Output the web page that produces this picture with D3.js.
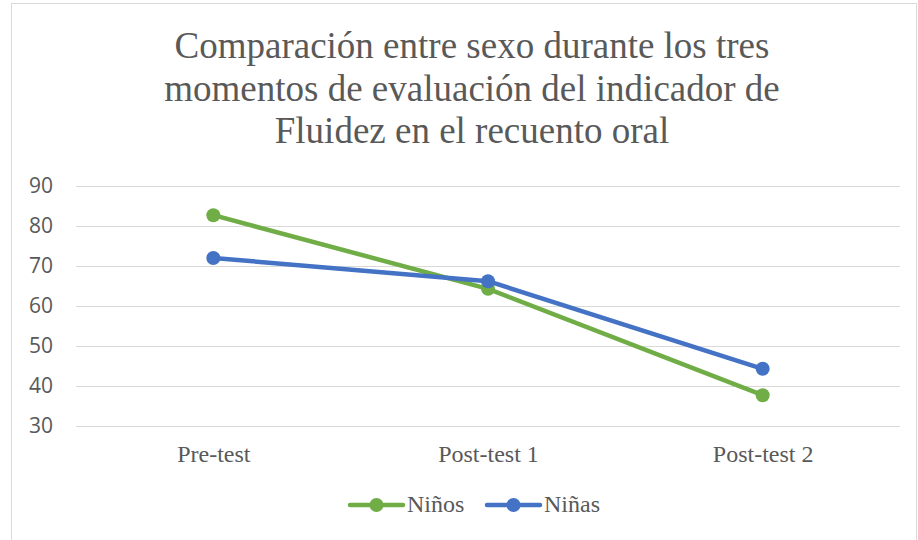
<!DOCTYPE html>
<html>
<head>
<meta charset="utf-8">
<script src="https://cdn.jsdelivr.net/npm/d3@7"></script>
<style>
  body { margin: 0; background: #fff; }
  .serif { font-family: 'Liberation Serif', 'Times New Roman', Tinos, 'DejaVu Serif', serif; }
</style>
</head>
<body>
<div id="chart"></div>
<script>
// Chart data
const categories = ['Pre-test', 'Post-test 1', 'Post-test 2']
const ninos = [82.7, 64.3, 37.7]
const ninas = [72, 66.2, 44.3]
const yTicks = [30, 40, 50, 60, 70, 80, 90]
const titleLines = ['Comparación entre sexo durante los tres',
                    'momentos de evaluación del indicador de',
                    'Fluidez en el recuento oral']

const series = [
    {name: 'Niños', values: ninos, color: '#70AD47'},
    {name: 'Niñas', values: ninas, color: '#4472C4'}
]

const width = 918, height = 540
const margin = {left: 76, right: 18, top: 186, bottom: 114}

let svg = d3.select('#chart').append('svg')
    .attr('width', width)
    .attr('height', height)

// Chart border
svg.append('rect')
    .attr('x', 11.5).attr('y', 3.5)
    .attr('width', 905).attr('height', 545)
    .attr('fill', 'none')
    .attr('stroke', '#d9d9d9')

// Title
svg.append('g').selectAll('text')
    .data(titleLines)
    .join('text')
    .attr('class', 'serif')
    .attr('x', 472)
    .attr('y', (d, i) => 58 + i * 42.5)
    .attr('text-anchor', 'middle')
    .style('font-size', '37px')
    .style('fill', '#595959')
    .text(d => d)

// Scales
let x = d3.scalePoint()
    .domain(categories)
    .range([margin.left, width - margin.right])
    .padding(0.5)

let y = d3.scaleLinear()
    .domain([30, 90])
    .range([height - margin.bottom, margin.top])

// Gridlines
svg.append('g')
    .attr('transform', `translate(${margin.left},0)`)
    .call(d3.axisLeft(y).tickValues(yTicks).tickSize(-(width - margin.left - margin.right)).tickFormat(''))
    .call(g => g.select('.domain').remove())
    .call(g => g.selectAll('line').attr('stroke', '#d9d9d9').attr('stroke-width', 1.2))

// Y labels
svg.append('g')
    .attr('transform', 'translate(56,0)')
    .call(d3.axisLeft(y).tickValues(yTicks).tickSize(0))
    .call(g => g.select('.domain').remove())
    .call(g => g.selectAll('text')
        .style('font-family', "'Open Sans', sans-serif")
        .style('font-size', '21px')
        .style('fill', '#595959'))

// X labels
svg.append('g')
    .attr('transform', `translate(0,${height - margin.bottom})`)
    .call(d3.axisBottom(x).tickSize(0).tickPadding(0))
    .call(g => g.select('.domain').remove())
    .call(g => g.selectAll('text')
        .attr('class', 'serif')
        .attr('dy', 0)
        .attr('y', 36)
        .style('font-size', '24px')
        .style('fill', '#595959'))

// Lines and markers
let line = d3.line()
    .x((d, i) => x(categories[i]))
    .y(d => y(d))

series.forEach(s => {
    svg.append('path')
        .datum(s.values)
        .attr('d', line)
        .attr('fill', 'none')
        .attr('stroke', s.color)
        .attr('stroke-width', 4.5)
        .attr('stroke-linejoin', 'round')
        .attr('stroke-linecap', 'round')

    svg.append('g').selectAll('circle')
        .data(s.values)
        .join('circle')
        .attr('cx', (d, i) => x(categories[i]))
        .attr('cy', d => y(d))
        .attr('r', 7)
        .attr('fill', s.color)
})

// Legend
let legend = svg.append('g')
    .selectAll('g')
    .data(series)
    .join('g')
    .attr('transform', (d, i) => `translate(${350 + i * 137},505)`)

legend.append('line')
    .attr('x1', 0).attr('x2', 53)
    .attr('stroke', d => d.color)
    .attr('stroke-width', 4.5)
    .attr('stroke-linecap', 'round')

legend.append('circle')
    .attr('cx', 26.5)
    .attr('r', 7)
    .attr('fill', d => d.color)

legend.append('text')
    .attr('class', 'serif')
    .attr('x', 57)
    .attr('y', 7)
    .style('font-size', '24px')
    .style('fill', '#595959')
    .text(d => d.name)
</script>
</body>
</html>
